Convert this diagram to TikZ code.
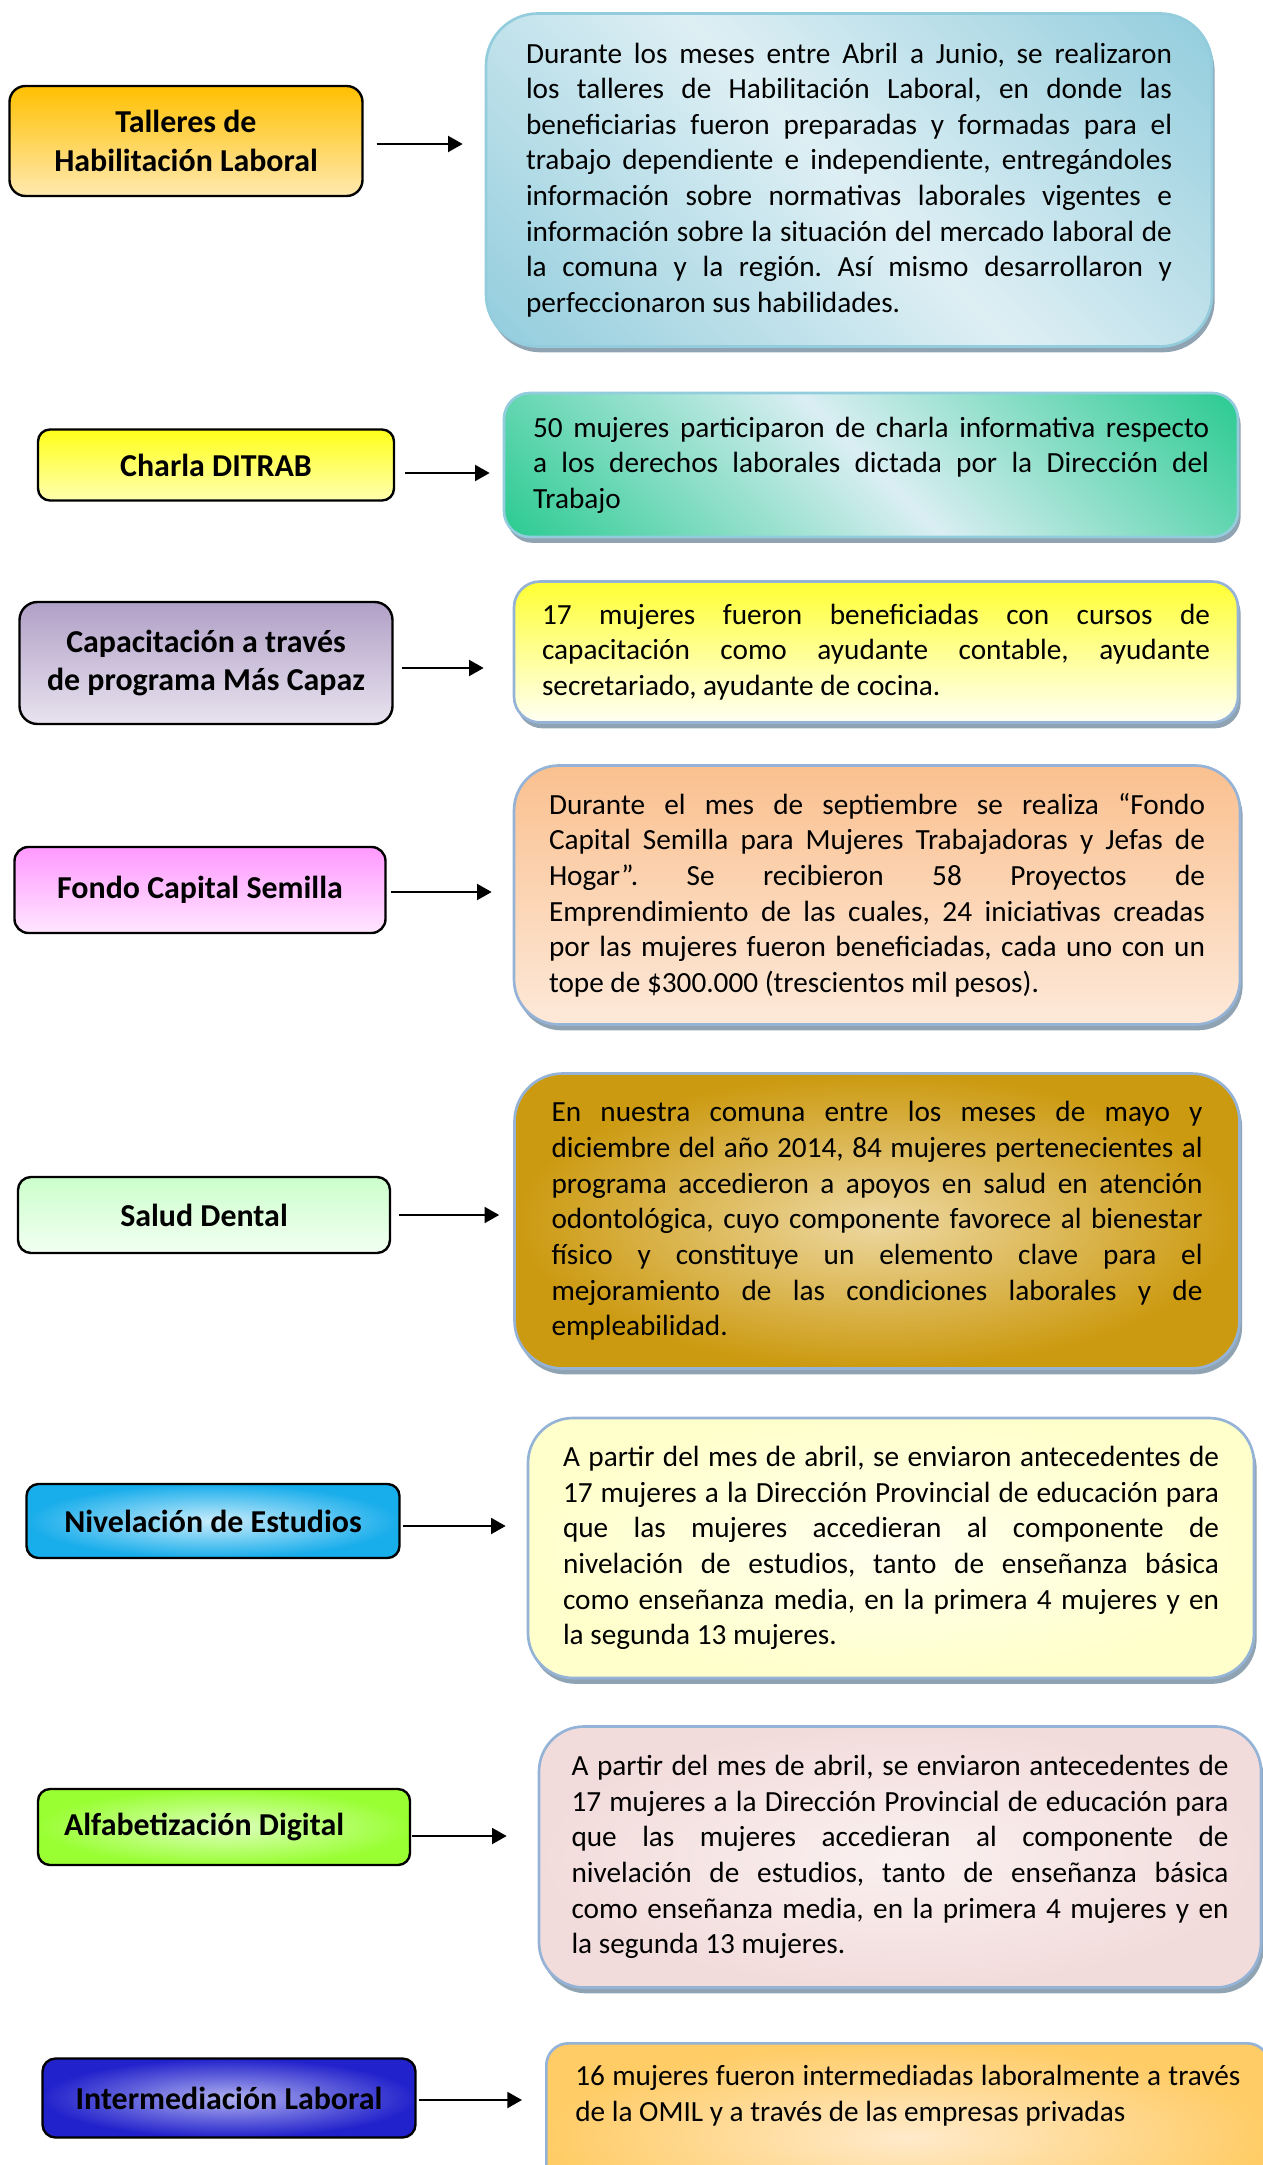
\documentclass[tikz,border=0pt]{standalone}
\usepackage{fontspec}
\setmainfont{Carlito}
\usetikzlibrary{arrows.meta,shadows}

\newdimen\pixel
\pixel=0.376pt
\hyphenpenalty=10000
\exhyphenpenalty=10000
\tolerance=10000
\hbadness=10000
\frenchspacing

% colores de las etiquetas
\definecolor{naranjaA}{HTML}{FFC000}
\definecolor{naranjaB}{HTML}{FFE9B0}
\definecolor{amarilloA}{HTML}{FFFF1A}
\definecolor{amarilloB}{HTML}{FFFFB0}
\definecolor{lilaA}{HTML}{B1A0C7}
\definecolor{lilaB}{HTML}{E8E3EF}
\definecolor{rosaA}{HTML}{FF99FF}
\definecolor{rosaB}{HTML}{FFE6FF}
\definecolor{mentaA}{HTML}{CCFFCC}
\definecolor{mentaB}{HTML}{F2FFF2}
\definecolor{celesteA}{HTML}{18ADEB}
\definecolor{celesteB}{HTML}{C8ECFB}
\definecolor{limaA}{HTML}{99FF33}
\definecolor{limaB}{HTML}{DFFFBF}
\definecolor{azulA}{HTML}{2222CC}
\definecolor{azulB}{HTML}{B0B0F0}
% colores de los cuadros
\definecolor{aguaA}{HTML}{93CDDD}
\definecolor{aguaB}{HTML}{DEEFF4}
\definecolor{verdeA}{HTML}{2CCB92}
\definecolor{verdeB}{HTML}{DAEEF3}
\definecolor{solA}{HTML}{FFFF33}
\definecolor{solB}{HTML}{FFFFF4}
\definecolor{melonA}{HTML}{FAC08F}
\definecolor{melonB}{HTML}{FDE9D9}
\definecolor{oroA}{HTML}{CC9A10}
\definecolor{oroB}{HTML}{EDD8A2}
\definecolor{cremaA}{HTML}{FFFFCC}
\definecolor{cremaB}{HTML}{FFFFEE}
\definecolor{palidoA}{HTML}{F2DCDB}
\definecolor{palidoB}{HTML}{FAF0F0}
\definecolor{mielA}{HTML}{FFCC66}
\definecolor{mielB}{HTML}{FFEACB}
\definecolor{bordeAgua}{HTML}{93CDDD}
\definecolor{bordeAzul}{HTML}{95B3D7}
\definecolor{sombra}{HTML}{8FA3B2}

% degradados en diagonal (esquinas oscuras arriba a la derecha y abajo a la izquierda)
\pgfdeclareverticalshading{aguadiag}{100bp}{color(0bp)=(aguaA); color(15bp)=(aguaA); color(50bp)=(aguaB); color(85bp)=(aguaA); color(100bp)=(aguaA)}
\pgfdeclareverticalshading{verdediag}{100bp}{color(0bp)=(verdeA); color(15bp)=(verdeA); color(50bp)=(verdeB); color(85bp)=(verdeA); color(100bp)=(verdeA)}

\begin{document}
\begin{tikzpicture}[x=0.376pt, y=-0.376pt,
    etiqueta/.style={draw=black, line width=0.9pt, align=center, inner sep=0pt,
      font=\fontsize{12}{14.6}\selectfont\bfseries},
    cuadro/.style={line width=1pt, align=justify, inner sep=0pt,
      font=\fontsize{11}{13.4}\selectfont,
      drop shadow={shadow xshift=1pt, shadow yshift=-2.2pt, fill=sombra, opacity=1}},
    flecha/.style={line width=0.8pt, -{Triangle[length=5.5pt, width=6pt]}}]
  \useasboundingbox (0,0) rectangle (1262,2165);

  % Etiquetas de la izquierda
  \node[etiqueta, minimum width=353\pixel, minimum height=110\pixel, rounded corners=16\pixel,
    top color=naranjaA, bottom color=naranjaB] (talleres) at (186,141) {Talleres de\\Habilitación Laboral};
  \node[etiqueta, minimum width=356\pixel, minimum height=71\pixel, rounded corners=12\pixel,
    top color=amarilloA, bottom color=amarilloB] (charla) at (216,465) {Charla DITRAB};
  \node[etiqueta, minimum width=373\pixel, minimum height=122\pixel, rounded corners=18\pixel,
    top color=lilaA, bottom color=lilaB] (capacitacion) at (206,663) {Capacitación a través\\de programa Más Capaz};
  \node[etiqueta, minimum width=371\pixel, minimum height=86\pixel, rounded corners=14\pixel,
    top color=rosaA, bottom color=rosaB] (fondo) at (200,890) {Fondo Capital Semilla};
  \node[etiqueta, minimum width=372\pixel, minimum height=76\pixel, rounded corners=13\pixel,
    top color=mentaA, bottom color=mentaB] (salud) at (204,1215) {Salud Dental};
  \node[etiqueta, minimum width=373\pixel, minimum height=74\pixel, rounded corners=12\pixel,
    inner color=celesteB, outer color=celesteA] (nivelacion) at (213,1521) {Nivelación de Estudios};
  \node[etiqueta, minimum width=372\pixel, minimum height=76\pixel, rounded corners=12\pixel,
    text width=320\pixel, align=flush left,
    inner color=limaB, outer color=limaA] (alfabetizacion) at (224,1827) {Alfabetización Digital};
  \node[etiqueta, minimum width=373\pixel, minimum height=79\pixel, rounded corners=13\pixel,
    inner color=azulB, outer color=azulA] (intermediacion) at (229,2098) {Intermediación Laboral};

  % Cuadros de texto de la derecha
  \node[cuadro, draw=bordeAgua, rounded corners=52\pixel, minimum width=726\pixel, minimum height=333\pixel,
    text width=646\pixel, shade, shading=aguadiag, shading angle=-45]
    (texto1) at (849,180) {Durante los meses entre Abril a Junio, se realizaron\linebreak
    los talleres de Habilitación Laboral, en donde las\linebreak
    beneficiarias fueron preparadas y formadas para el\linebreak
    trabajo dependiente e independiente, entregándoles\linebreak
    información sobre normativas laborales vigentes e\linebreak
    información sobre la situación del mercado laboral de\linebreak
    la comuna y la región. Así mismo desarrollaron y\linebreak
    perfeccionaron sus habilidades.};
  \node[cuadro, draw=bordeAgua, rounded corners=26\pixel, minimum width=734\pixel, minimum height=144\pixel,
    text width=676\pixel, shade, shading=verdediag, shading angle=-45]
    (texto2) at (871,465) {50 mujeres participaron de charla informativa respecto\linebreak
    a los derechos laborales dictada por la Dirección del\linebreak
    Trabajo};
  \node[cuadro, draw=bordeAzul, rounded corners=26\pixel, minimum width=724\pixel, minimum height=141\pixel,
    text width=668\pixel, top color=solA, bottom color=solB]
    (texto3) at (876,652) {17 mujeres fueron beneficiadas con cursos de\linebreak
    capacitación como ayudante contable, ayudante\linebreak
    secretariado, ayudante de cocina.};
  \node[cuadro, draw=bordeAzul, rounded corners=45\pixel, minimum width=726\pixel, minimum height=259\pixel,
    text width=656\pixel, top color=melonA, bottom color=melonB]
    (texto4) at (877,895) {Durante el mes de septiembre se realiza “Fondo\linebreak
    Capital Semilla para Mujeres Trabajadoras y Jefas de\linebreak
    Hogar”. Se recibieron 58 Proyectos de\linebreak
    Emprendimiento de las cuales, 24 iniciativas creadas\linebreak
    por las mujeres fueron beneficiadas, cada uno con un\linebreak
    tope de \$300.000 (trescientos mil pesos).};
  \node[cuadro, draw=bordeAzul, rounded corners=48\pixel, minimum width=725\pixel, minimum height=295\pixel,
    text width=651\pixel, inner color=oroB, outer color=oroA]
    (texto5) at (877,1221) {En nuestra comuna entre los meses de mayo y\linebreak
    diciembre del año 2014, 84 mujeres pertenecientes al\linebreak
    programa accedieron a apoyos en salud en atención\linebreak
    odontológica, cuyo componente favorece al bienestar\linebreak
    físico y constituye un elemento clave para el\linebreak
    mejoramiento de las condiciones laborales y de\linebreak
    empleabilidad.};
  \node[cuadro, draw=bordeAzul, rounded corners=45\pixel, minimum width=726\pixel, minimum height=260\pixel,
    text width=656\pixel, inner color=cremaB, outer color=cremaA]
    (texto6) at (891,1548) {A partir del mes de abril, se enviaron antecedentes de\linebreak
    17 mujeres a la Dirección Provincial de educación para\linebreak
    que las mujeres accedieran al componente de\linebreak
    nivelación de estudios, tanto de enseñanza básica\linebreak
    como enseñanza media, en la primera 4 mujeres y en\linebreak
    la segunda 13 mujeres.};
  \node[cuadro, draw=bordeAzul, rounded corners=45\pixel, minimum width=722\pixel, minimum height=261\pixel,
    text width=657\pixel, inner color=palidoB, outer color=palidoA]
    (texto7) at (900,1857) {A partir del mes de abril, se enviaron antecedentes de\linebreak
    17 mujeres a la Dirección Provincial de educación para\linebreak
    que las mujeres accedieran al componente de\linebreak
    nivelación de estudios, tanto de enseñanza básica\linebreak
    como enseñanza media, en la primera 4 mujeres y en\linebreak
    la segunda 13 mujeres.};
  \node[cuadro, draw=bordeAzul, rounded corners=22\pixel, minimum width=723\pixel, inner ysep=22\pixel,
    text width=665\pixel, anchor=north west, inner color=mielB, outer color=mielA]
    (texto8) at (545,2042) {16 mujeres fueron intermediadas laboralmente a través\linebreak
    de la OMIL y a través de las empresas privadas\par\rule{0pt}{80\pixel}};

  % Flechas
  \draw[flecha, shorten <=13\pixel, shorten >=22\pixel] ([yshift=-3\pixel]talleres.east) -- ([yshift=-3\pixel]talleres.east -| texto1.west);
  \draw[flecha, shorten <=10\pixel, shorten >=13\pixel] ([yshift=-8\pixel]charla.east) -- ([yshift=-8\pixel]charla.east -| texto2.west);
  \draw[flecha, shorten <=8\pixel, shorten >=29\pixel] ([yshift=-5\pixel]capacitacion.east) -- ([yshift=-5\pixel]capacitacion.east -| texto3.west);
  \draw[flecha, shorten <=4\pixel, shorten >=21\pixel] ([yshift=-2\pixel]fondo.east) -- ([yshift=-2\pixel]fondo.east -| texto4.west);
  \draw[flecha, shorten <=8\pixel, shorten >=14\pixel] (salud.east) -- (salud.east -| texto5.west);
  \draw[flecha, shorten <=2\pixel, shorten >=21\pixel] ([yshift=-5\pixel]nivelacion.east) -- ([yshift=-5\pixel]nivelacion.east -| texto6.west);
  \draw[flecha, shorten <=1\pixel, shorten >=31\pixel] ([yshift=-9\pixel]alfabetizacion.east) -- ([yshift=-9\pixel]alfabetizacion.east -| texto7.west);
  \draw[flecha, shorten <=2\pixel, shorten >=23\pixel] ([yshift=-2\pixel]intermediacion.east) -- ([yshift=-2\pixel]intermediacion.east -| texto8.west);
\end{tikzpicture}
\end{document}
